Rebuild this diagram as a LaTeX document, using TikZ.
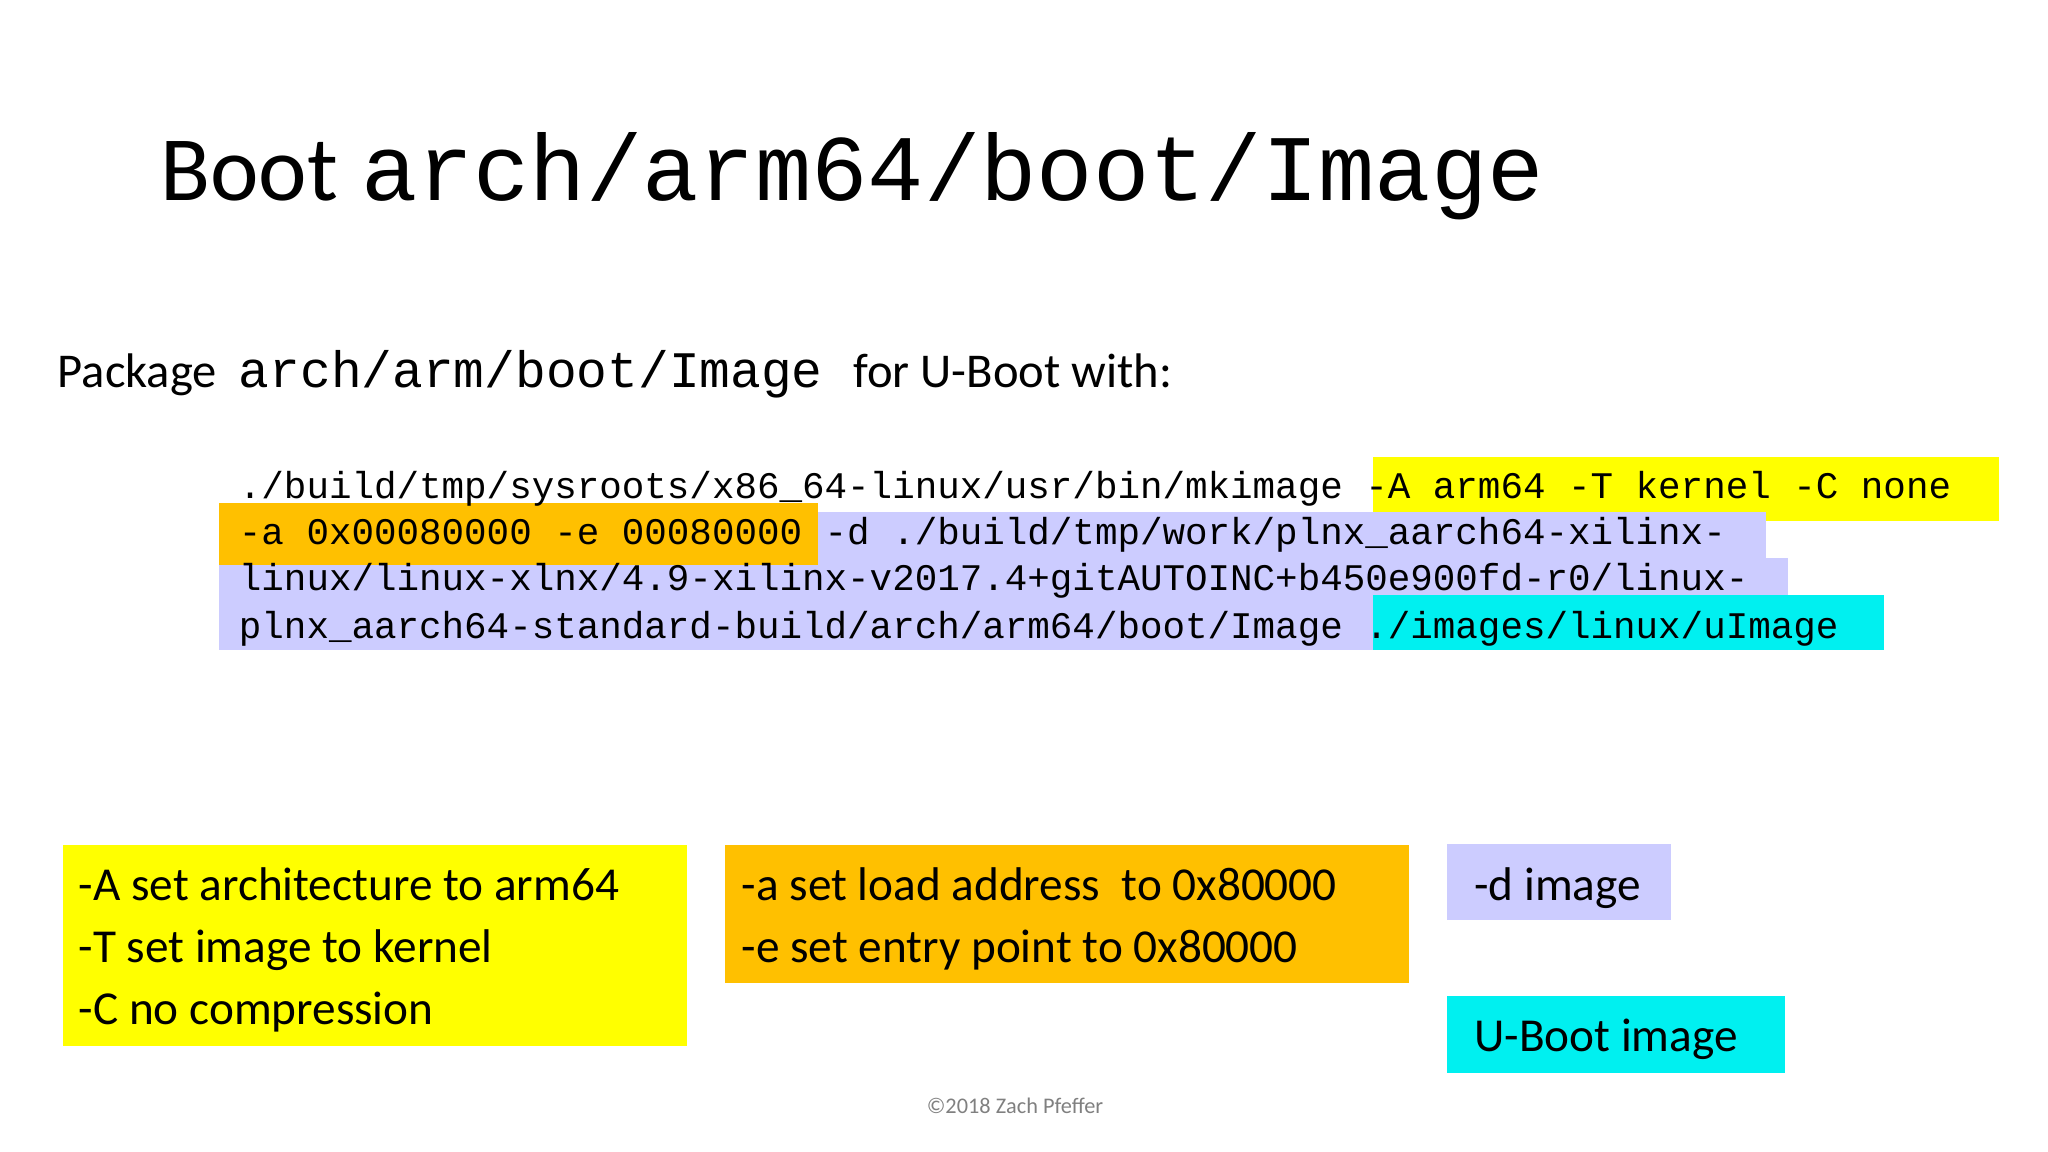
\documentclass[tikz,border=0pt]{standalone}
\usepackage{fontspec}
\setmainfont{Carlito}
\setmonofont{Liberation Mono}
\definecolor{hy}{HTML}{FFFF00}
\definecolor{ho}{HTML}{FFC000}
\definecolor{hl}{HTML}{CCCCFF}
\definecolor{hc}{HTML}{00F0F0}
\tikzset{
  txt/.style={anchor=base west,inner sep=0pt,outer sep=0pt},
  code/.style={txt,font=\fontsize{28.6}{30}\ttfamily},
  note/.style={txt,font=\fontsize{36}{40}\selectfont},
}
\begin{document}
\begin{tikzpicture}[x=1pt,y=-1pt]
\useasboundingbox (0,0) rectangle (1560,877.5);
% title
\node[txt,font=\fontsize{70}{74}\selectfont] (t1) at (122,153) {Boot};
\node[txt,font=\fontsize{71.5}{74}\ttfamily] (t2) at (275,153) {arch/arm64/boot/Image};
% subtitle
\node[txt,font=\fontsize{37}{40}\selectfont] (s1) at (44,295) {Package};
\node[txt,font=\fontsize{39}{40}\ttfamily] (s2) at (182,295) {arch/arm/boot/Image};
\node[txt,font=\fontsize{37}{40}\selectfont] (s3) at (650,295) {for U-Boot with:};
% highlights
\fill[hy] (1046,348) rectangle (1523,397);
\fill[hl] (623,390) rectangle (1345,425);
\fill[hl] (167,425) rectangle (1362,460);
\fill[hl] (167,460) rectangle (1046,495);
\fill[ho] (167,383) rectangle (623,430);
\fill[hc] (1046,453) rectangle (1435,495);
% code
\node[code] (c1) at (182,380) {./build/tmp/sysroots/x86\_64-linux/usr/bin/mkimage -A arm64 -T kernel -C none};
\node[code] (c2) at (182,415) {-a 0x00080000 -e 00080000 -d ./build/tmp/work/plnx\_aarch64-xilinx-};
\node[code] (c3) at (182,450) {linux/linux-xlnx/4.9-xilinx-v2017.4+gitAUTOINC+b450e900fd-r0/linux-};
\node[code] (c4) at (182,486) {plnx\_aarch64-standard-build/arch/arm64/boot/Image ./images/linux/uImage};
% bottom boxes
\fill[hy] (48,644) rectangle (523,797);
\fill[ho] (552,644) rectangle (1073,749);
\fill[hl] (1102,643) rectangle (1273,701);
\fill[hc] (1102,759) rectangle (1360,817);
\node[note] (n1) at (60,686) {-A set architecture to arm64};
\node[note] (n2) at (60,733) {-T set image to kernel};
\node[note] (n3) at (60,780) {-C no compression};
\node[note] (n4) at (565,686) {-a set load address\ \ to 0x80000};
\node[note] (n5) at (565,733) {-e set entry point to 0x80000};
\node[note] (n6) at (1123,686) {-d image};
\node[note] (n7) at (1123,801) {U-Boot image};
\node[txt,font=\fontsize{17}{20}\selectfont,text=gray] (f) at (706,848) {©2018 Zach Pfeffer};
\end{tikzpicture}
\end{document}
